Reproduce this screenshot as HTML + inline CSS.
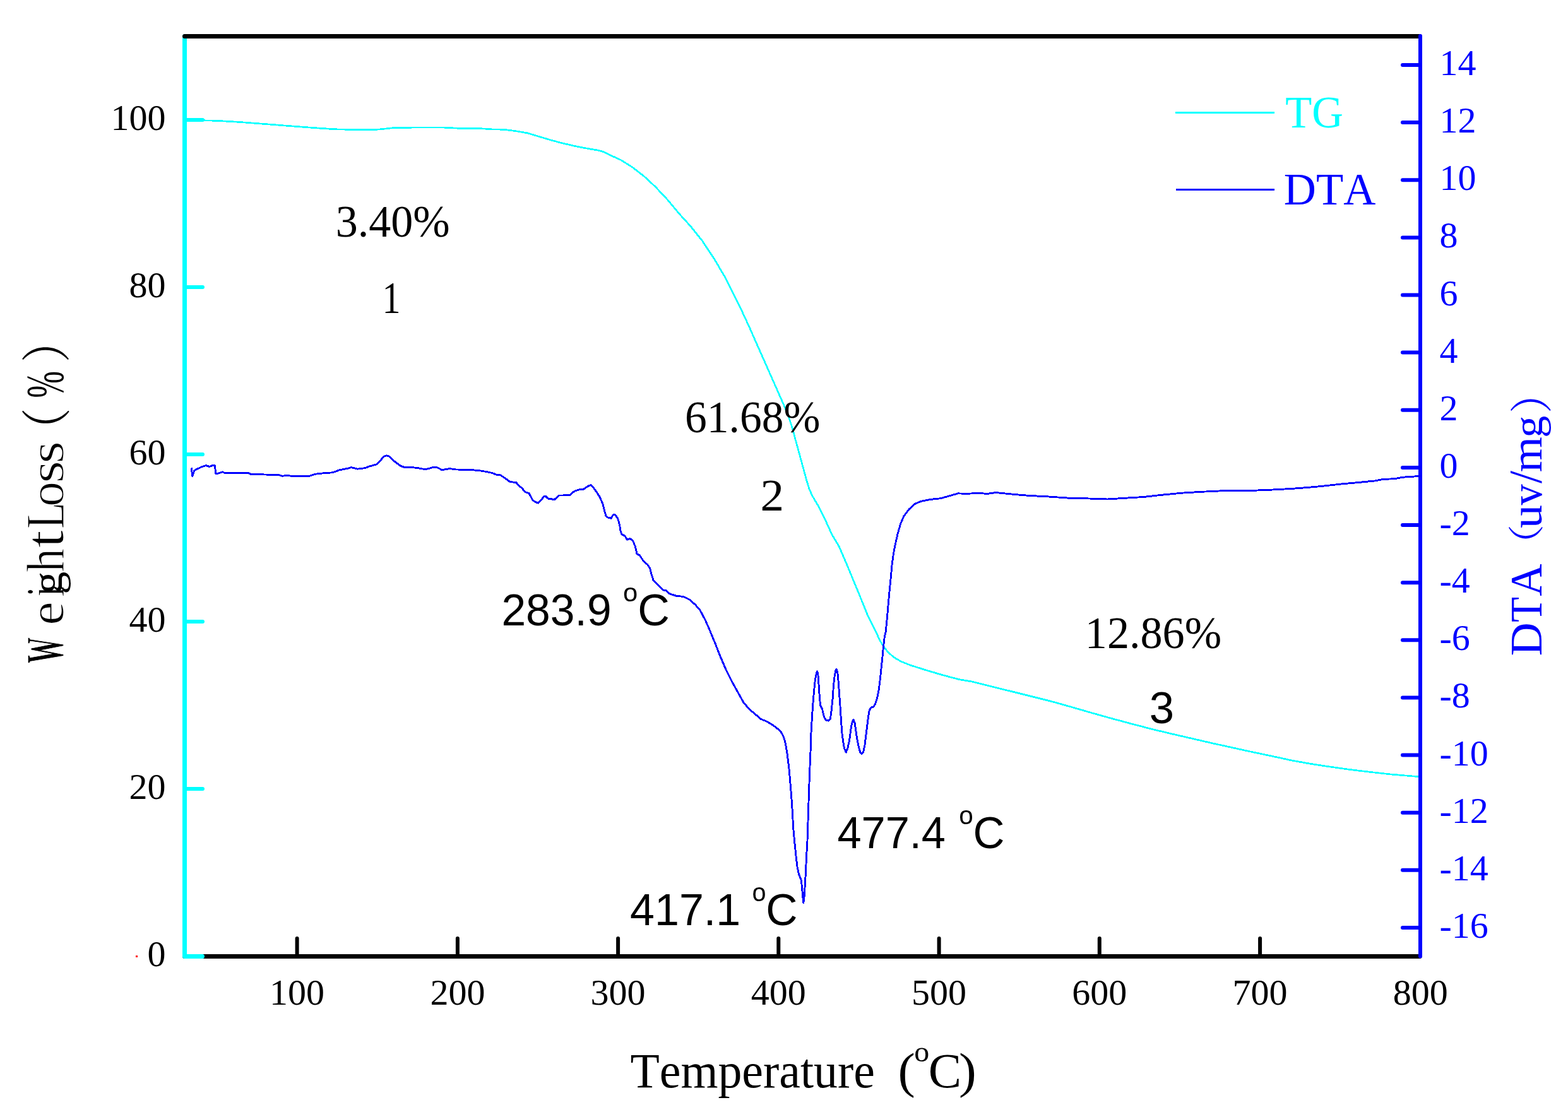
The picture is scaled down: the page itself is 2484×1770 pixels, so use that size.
<!DOCTYPE html>
<html lang="en"><head><meta charset="utf-8"><title>TG-DTA curves</title>
<style>
html,body{margin:0;padding:0;background:#fff;width:2484px;height:1770px}
svg{display:block}
text{font-kerning:none;font-variant-ligatures:none;white-space:pre}
.ser{font-family:"Liberation Serif",serif}
.san{font-family:"Liberation Sans",sans-serif}
.cjk{font-family:"Liberation Serif","Noto Serif CJK SC",serif}
.thin{stroke:#fff;stroke-width:1.3px;vector-effect:non-scaling-stroke}
</style></head><body>
<svg width="2484" height="1770" viewBox="0 0 2484 1770">
<rect width="2484" height="1770" fill="#fff"/>
<polyline fill="none" stroke="#00ffff" stroke-width="2.7" stroke-linejoin="round" shape-rendering="crispEdges" points="296.0,190.8 322.9,190.8 344.8,191.4 377.8,193.3 410.7,195.8 443.6,198.4 476.5,201.0 509.4,203.4 531.3,204.8 564.2,205.6 592.8,205.6 608.1,204.3 625.7,202.3 663.0,202.1 702.5,202.1 728.8,203.4 761.7,203.7 780.0,204.9 798.5,205.3 817.0,207.7 835.4,210.8 853.9,216.4 872.4,221.9 890.9,226.9 909.3,231.1 927.8,234.8 946.3,238.0 955.5,240.4 964.8,245.0 983.2,253.3 1001.7,264.9 1020.2,279.2 1038.7,296.4 1057.1,316.1 1075.6,338.3 1094.1,358.6 1112.6,381.7 1131.0,409.4 1149.5,440.8 1161.0,464.0 1173.9,489.9 1186.8,517.6 1199.8,547.2 1210.9,572.1 1221.9,597.0 1233.0,622.0 1242.3,643.2 1249.7,661.7 1255.2,678.3 1260.7,698.7 1266.3,719.0 1272.1,740.3 1277.6,760.6 1282.2,775.4 1286.8,785.6 1296.1,801.3 1307.2,823.5 1318.2,847.5 1329.3,866.0 1340.4,891.8 1351.5,918.6 1362.6,945.4 1373.7,973.1 1384.8,995.3 1393.9,1014.8 1399.4,1024.0 1406.8,1033.3 1416.0,1041.6 1427.1,1048.0 1441.9,1054.0 1464.1,1061.0 1491.8,1069.3 1519.5,1076.7 1540.0,1080.1 1571.6,1088.0 1603.2,1095.8 1634.8,1103.7 1666.4,1111.6 1698.0,1120.5 1729.6,1129.7 1761.2,1138.5 1792.7,1147.0 1824.3,1155.2 1855.9,1162.8 1887.5,1170.1 1919.1,1177.4 1950.7,1184.3 1982.3,1191.3 2013.9,1197.9 2045.5,1204.8 2077.1,1210.5 2108.7,1215.3 2140.3,1219.7 2171.8,1223.5 2203.4,1227.0 2247.0,1230.7"/>
<polyline fill="none" stroke="#0000ff" stroke-width="2.9" stroke-linejoin="round" shape-rendering="crispEdges" points="303.2,741.5 304.7,754.7 307.6,745.9 311.9,743.3 318.5,740.3 326.2,737.6 331.7,739.4 337.2,737.4 340.5,737.8 341.6,750.3 344.8,750.3 352.5,747.9 355.8,749.2 393.1,749.2 397.5,751.4 415.0,751.9 441.4,752.5 446.9,754.3 452.4,753.6 461.1,754.1 490.7,754.1 498.4,751.4 511.6,749.9 526.9,748.8 537.9,744.8 548.9,742.7 556.6,740.7 566.4,743.1 577.4,741.8 586.2,738.7 597.2,735.6 603.7,728.4 608.1,723.3 612.5,721.8 616.9,723.3 625.7,731.7 634.5,738.3 641.0,740.5 652.0,740.5 663.0,741.8 673.9,743.8 684.9,740.9 692.6,740.9 700.3,744.8 706.8,743.3 713.4,742.7 722.2,744.0 744.1,744.4 759.5,745.7 772.7,747.9 780.0,749.6 787.4,752.7 792.9,752.9 800.3,757.9 807.7,763.4 817.9,764.7 822.5,770.3 826.2,772.7 831.7,779.5 838.2,781.9 843.7,792.1 847.4,795.2 852.4,797.2 857.6,792.1 861.3,786.9 864.1,786.1 868.3,790.2 873.3,790.6 877.9,792.1 885.3,785.0 890.9,785.0 902.9,784.3 909.3,778.8 916.7,776.0 924.1,775.4 931.5,770.4 935.8,768.6 940.7,773.6 945.4,780.0 950.0,787.4 954.6,797.6 957.4,808.7 960.1,817.9 962.9,820.1 968.1,821.2 971.2,816.1 974.0,815.1 978.6,821.2 981.4,830.9 983.2,841.9 985.1,847.1 989.7,848.8 993.4,855.2 998.0,853.4 1002.6,856.7 1006.3,866.0 1009.1,878.0 1013.2,879.8 1019.3,889.1 1025.7,894.6 1029.4,900.1 1032.2,910.3 1035.0,919.5 1042.4,926.9 1050.7,934.9 1055.3,935.8 1060.8,940.8 1071.9,944.5 1083.0,945.4 1092.2,950.0 1101.5,958.3 1108.9,966.7 1117.2,982.4 1123.7,997.1 1132.9,1019.3 1141.0,1040.0 1150.0,1061.0 1159.2,1079.4 1168.5,1096.1 1177.7,1112.7 1187.0,1123.8 1196.2,1131.5 1205.4,1139.5 1214.7,1143.2 1223.9,1148.7 1231.3,1154.3 1236.8,1158.9 1241.5,1168.1 1244.2,1177.4 1247.0,1194.0 1249.8,1216.2 1251.6,1236.5 1253.5,1258.7 1255.3,1286.0 1256.8,1313.0 1259.0,1337.0 1260.9,1355.5 1263.1,1374.0 1265.5,1385.1 1269.2,1394.3 1270.5,1405.4 1271.6,1420.2 1272.9,1430.3 1274.2,1420.2 1275.3,1401.7 1276.6,1379.5 1277.5,1357.4 1278.8,1337.0 1279.7,1313.0 1280.3,1290.9 1281.2,1265.5 1282.1,1238.0 1283.2,1210.0 1284.3,1184.8 1284.9,1162.6 1286.2,1140.4 1287.6,1118.2 1289.5,1096.1 1291.3,1077.6 1293.2,1067.4 1294.7,1063.7 1296.0,1070.2 1297.3,1088.7 1298.4,1105.3 1299.7,1118.2 1302.4,1122.9 1304.3,1131.2 1306.1,1137.6 1308.9,1141.3 1312.6,1142.3 1315.4,1139.5 1317.2,1125.6 1319.1,1107.2 1320.3,1088.7 1321.8,1073.9 1323.7,1062.8 1325.0,1060.6 1326.8,1064.7 1328.3,1081.3 1329.6,1099.8 1331.1,1120.1 1332.4,1140.4 1333.8,1160.7 1335.7,1175.5 1337.5,1185.7 1340.3,1192.1 1343.1,1184.8 1345.8,1171.8 1347.7,1157.0 1349.5,1146.0 1351.9,1140.4 1354.2,1146.0 1356.0,1158.9 1357.9,1171.8 1360.6,1184.8 1362.8,1192.1 1364.9,1194.9 1367.6,1192.1 1369.9,1181.1 1371.7,1166.3 1373.6,1151.5 1375.4,1136.7 1377.3,1125.6 1380.0,1121.0 1383.7,1120.1 1386.5,1115.5 1389.3,1107.2 1392.0,1094.2 1393.9,1079.4 1395.7,1062.8 1397.6,1044.3 1399.4,1025.9 1401.2,1010.0 1403.2,1000.8 1405.4,978.7 1407.3,956.5 1409.1,936.2 1411.2,915.8 1413.0,895.5 1415.2,878.9 1418.0,864.1 1421.7,847.5 1426.3,830.9 1431.9,817.9 1440.2,806.8 1449.4,798.5 1458.7,794.5 1473.4,791.5 1490.1,789.7 1504.9,785.6 1517.8,781.9 1530.7,782.3 1551.0,781.5 1564.0,782.4 1577.9,780.5 1603.2,783.1 1628.5,785.3 1660.0,786.9 1691.6,789.1 1716.9,789.7 1754.8,791.0 1780.1,789.4 1811.7,787.5 1840.1,784.3 1871.7,781.2 1903.3,779.3 1944.4,777.4 1982.3,777.4 2013.9,776.1 2045.5,774.5 2077.1,772.0 2102.3,769.5 2124.5,767.0 2156.1,764.1 2178.2,761.9 2190.8,759.4 2209.8,758.7 2222.4,756.2 2247.0,754.6"/>
<g stroke="#000" stroke-width="7" stroke-linecap="round" fill="none">
<line x1="292.5" y1="1515.5" x2="2249" y2="1515.5"/>
</g><g stroke="#000" stroke-width="6" stroke-linecap="round">
<line x1="470.6" y1="1487" x2="470.6" y2="1513"/>
<line x1="724.9" y1="1487" x2="724.9" y2="1513"/>
<line x1="979.1" y1="1487" x2="979.1" y2="1513"/>
<line x1="1233.3" y1="1487" x2="1233.3" y2="1513"/>
<line x1="1487.6" y1="1487" x2="1487.6" y2="1513"/>
<line x1="1741.8" y1="1487" x2="1741.8" y2="1513"/>
<line x1="1996.1" y1="1487" x2="1996.1" y2="1513"/>
</g>
<g stroke="#00ffff" stroke-width="7" stroke-linecap="round">
<line x1="292.5" y1="57.5" x2="292.5" y2="1515.5"/>
</g><g stroke="#00ffff" stroke-width="6" stroke-linecap="round">
<line x1="294" y1="190.0" x2="321" y2="190.0"/>
<line x1="294" y1="455.0" x2="321" y2="455.0"/>
<line x1="294" y1="720.0" x2="321" y2="720.0"/>
<line x1="294" y1="985.0" x2="321" y2="985.0"/>
<line x1="294" y1="1250.0" x2="321" y2="1250.0"/>
<line x1="294" y1="1515.5" x2="320.5" y2="1515.5" stroke-width="7"/>
</g>
<line x1="292.5" y1="57.5" x2="2249" y2="57.5" stroke="#000" stroke-width="7" stroke-linecap="round"/>
<g stroke="#0000ff" stroke-width="6" stroke-linecap="round">
<line x1="2250" y1="57" x2="2250" y2="1515.5"/>
<line x1="2222" y1="103.0" x2="2249" y2="103.0"/>
<line x1="2222" y1="194.1" x2="2249" y2="194.1"/>
<line x1="2222" y1="285.3" x2="2249" y2="285.3"/>
<line x1="2222" y1="376.4" x2="2249" y2="376.4"/>
<line x1="2222" y1="467.5" x2="2249" y2="467.5"/>
<line x1="2222" y1="558.6" x2="2249" y2="558.6"/>
<line x1="2222" y1="649.8" x2="2249" y2="649.8"/>
<line x1="2222" y1="740.9" x2="2249" y2="740.9"/>
<line x1="2222" y1="832.0" x2="2249" y2="832.0"/>
<line x1="2222" y1="923.2" x2="2249" y2="923.2"/>
<line x1="2222" y1="1014.3" x2="2249" y2="1014.3"/>
<line x1="2222" y1="1105.4" x2="2249" y2="1105.4"/>
<line x1="2222" y1="1196.6" x2="2249" y2="1196.6"/>
<line x1="2222" y1="1287.7" x2="2249" y2="1287.7"/>
<line x1="2222" y1="1378.8" x2="2249" y2="1378.8"/>
<line x1="2222" y1="1469.9" x2="2249" y2="1469.9"/>
</g>
<rect x="215" y="1514" width="3" height="3" fill="#ff0000"/>
<g class="ser" font-size="58" fill="#000">
<g text-anchor="end">
<text x="262.5" y="205.6">100</text>
<text x="262.5" y="470.6">80</text>
<text x="262.5" y="735.6">60</text>
<text x="262.5" y="1000.6">40</text>
<text x="262.5" y="1265.6">20</text>
<text x="262.5" y="1530.6">0</text>
</g><g text-anchor="middle">
<text x="470.6" y="1592">100</text>
<text x="724.9" y="1592">200</text>
<text x="979.1" y="1592">300</text>
<text x="1233.3" y="1592">400</text>
<text x="1487.6" y="1592">500</text>
<text x="1741.8" y="1592">600</text>
<text x="1996.1" y="1592">700</text>
<text x="2250.3" y="1592">800</text>
</g></g>
<g class="ser" font-size="58" fill="#0000ff">
<text x="2280.5" y="119.0">14</text>
<text x="2280.5" y="210.1">12</text>
<text x="2280.5" y="301.3">10</text>
<text x="2280.5" y="392.4">8</text>
<text x="2280.5" y="483.5">6</text>
<text x="2280.5" y="574.6">4</text>
<text x="2280.5" y="665.8">2</text>
<text x="2280.5" y="756.9">0</text>
<text x="2280.5" y="848.0">-2</text>
<text x="2280.5" y="939.2">-4</text>
<text x="2280.5" y="1030.3">-6</text>
<text x="2280.5" y="1121.4">-8</text>
<text x="2280.5" y="1212.6">-10</text>
<text x="2280.5" y="1303.7">-12</text>
<text x="2280.5" y="1394.8">-14</text>
<text x="2280.5" y="1485.9">-16</text>
</g>
<line x1="1862" y1="178.5" x2="2019" y2="178.5" stroke="#00ffff" stroke-width="3"/>
<line x1="1863" y1="300.5" x2="2019" y2="300.5" stroke="#0000ff" stroke-width="3"/>
<text fill="#00ffff"><tspan class="ser" x="2036.26" y="201.80" font-size="72" textLength="91.80" lengthAdjust="spacingAndGlyphs">TG</tspan></text>
<text fill="#0000ff"><tspan class="ser" x="2033.86" y="323.80" font-size="72" textLength="145.46" lengthAdjust="spacingAndGlyphs">DTA</tspan></text>
<text fill="#000"><tspan class="ser" x="531.65" y="375.20" font-size="72" textLength="181.05" lengthAdjust="spacingAndGlyphs">3.40%</tspan></text>
<text fill="#000"><tspan class="ser" x="605.38" y="495.80" font-size="72" textLength="29.12" lengthAdjust="spacingAndGlyphs">1</tspan></text>
<text fill="#000"><tspan class="ser" x="1085.01" y="685.20" font-size="72" textLength="214.47" lengthAdjust="spacingAndGlyphs">61.68%</tspan></text>
<text fill="#000"><tspan class="ser" x="1204.50" y="808.70" font-size="72" textLength="37.54" lengthAdjust="spacingAndGlyphs">2</tspan></text>
<text fill="#000"><tspan class="ser" x="1718.83" y="1027.30" font-size="72" textLength="216.26" lengthAdjust="spacingAndGlyphs">12.86%</tspan></text>
<text fill="#000"><tspan class="san" x="1820.71" y="1145.60" font-size="70" textLength="39.30" lengthAdjust="spacingAndGlyphs">3</tspan></text>
<text fill="#000"><tspan class="san" x="794.40" y="990.70" font-size="70" textLength="193.55" lengthAdjust="spacingAndGlyphs">283.9 </tspan><tspan class="san" x="987.05" y="952.70" font-size="40" textLength="23.20" lengthAdjust="spacingAndGlyphs">o</tspan><tspan class="san" x="1010.14" y="990.70" font-size="70" textLength="50.63" lengthAdjust="spacingAndGlyphs">C</tspan></text>
<text fill="#000"><tspan class="san" x="1326.43" y="1343.80" font-size="70" textLength="190.64" lengthAdjust="spacingAndGlyphs">477.4 </tspan><tspan class="san" x="1519.30" y="1305.80" font-size="40" textLength="22.50" lengthAdjust="spacingAndGlyphs">o</tspan><tspan class="san" x="1541.49" y="1343.80" font-size="70" textLength="49.95" lengthAdjust="spacingAndGlyphs">C</tspan></text>
<text fill="#000"><tspan class="san" x="998.09" y="1465.80" font-size="70" textLength="194.58" lengthAdjust="spacingAndGlyphs">417.1 </tspan><tspan class="san" x="1191.54" y="1427.80" font-size="40" textLength="22.03" lengthAdjust="spacingAndGlyphs">o</tspan><tspan class="san" x="1213.36" y="1465.80" font-size="70" textLength="50.29" lengthAdjust="spacingAndGlyphs">C</tspan></text>
<text fill="#000"><tspan class="ser" x="998.53" y="1722.70" font-size="77.5" textLength="425.21" lengthAdjust="spacingAndGlyphs">Temperature  </tspan><tspan class="ser" x="1422.41" y="1722.70" font-size="77.5" textLength="27.23" lengthAdjust="spacingAndGlyphs">(</tspan><tspan class="ser" x="1448.18" y="1682.40" font-size="45.5" textLength="23.95" lengthAdjust="spacingAndGlyphs">o</tspan><tspan class="ser" x="1470.78" y="1722.70" font-size="77.5" textLength="52.35" lengthAdjust="spacingAndGlyphs">C</tspan><tspan class="ser" x="1519.01" y="1722.70" font-size="77.5" textLength="27.75" lengthAdjust="spacingAndGlyphs">)</tspan></text>
<text fill="#0000ff" transform="translate(2442,1038) rotate(-90)"><tspan x="-1.21" y="-0.14" font-size="71.26" textLength="52.84" lengthAdjust="spacingAndGlyphs" class="ser">D</tspan><tspan x="52.12" y="0.00" font-size="71.47" textLength="39.97" lengthAdjust="spacingAndGlyphs" class="ser">T</tspan><tspan x="93.31" y="0.00" font-size="72.71" textLength="51.21" lengthAdjust="spacingAndGlyphs" class="ser">A</tspan> <tspan x="142.72" y="-3.46" font-size="57.48" textLength="64.34" lengthAdjust="spacingAndGlyphs" class="cjk">（</tspan><tspan x="201.03" y="0.22" font-size="69.33" textLength="36.94" lengthAdjust="spacingAndGlyphs" class="ser">u</tspan><tspan x="237.40" y="0.22" font-size="69.33" textLength="33.30" lengthAdjust="spacingAndGlyphs" class="ser">v</tspan><tspan x="272.10" y="0.17" font-size="74.45" textLength="19.90" lengthAdjust="spacingAndGlyphs" class="ser">/</tspan><tspan x="289.69" y="-0.10" font-size="70.04" textLength="56.04" lengthAdjust="spacingAndGlyphs" class="ser">m</tspan><tspan x="344.19" y="0.83" font-size="66.12" textLength="35.05" lengthAdjust="spacingAndGlyphs" class="ser">g</tspan><tspan x="383.05" y="8.81" font-size="68.06" textLength="64.34" lengthAdjust="spacingAndGlyphs" class="cjk">）</tspan></text>
<text fill="#000" transform="translate(100.9,1052) rotate(-90)"><tspan x="0.72" y="-1.27" font-size="83.74" textLength="41.12" lengthAdjust="spacingAndGlyphs" font-weight="bold" class="ser thin">W</tspan><tspan x="60.95" y="-0.77" font-size="78.80" textLength="38.01" lengthAdjust="spacingAndGlyphs" class="ser thin">e</tspan><tspan x="106.22" y="0.00" font-size="86.24" textLength="16.94" lengthAdjust="spacingAndGlyphs" class="ser thin">i</tspan><tspan x="110.51" y="-2.84" font-size="68.31" textLength="35.96" lengthAdjust="spacingAndGlyphs" class="ser">g</tspan><tspan x="145.16" y="0.00" font-size="85.18" textLength="37.73" lengthAdjust="spacingAndGlyphs" class="ser thin">h</tspan><tspan x="183.49" y="-0.85" font-size="86.77" textLength="28.61" lengthAdjust="spacingAndGlyphs" class="ser thin">t</tspan> <tspan x="214.02" y="0.00" font-size="85.68" textLength="41.90" lengthAdjust="spacingAndGlyphs" class="ser thin">L</tspan><tspan x="248.94" y="-0.77" font-size="78.80" textLength="40.11" lengthAdjust="spacingAndGlyphs" class="ser thin">o</tspan><tspan x="286.21" y="-0.77" font-size="78.80" textLength="35.92" lengthAdjust="spacingAndGlyphs" class="ser thin">s</tspan><tspan x="317.21" y="-0.77" font-size="78.80" textLength="35.92" lengthAdjust="spacingAndGlyphs" class="ser thin">s</tspan> <tspan x="335.78" y="0.88" font-size="79.81" textLength="69.93" lengthAdjust="spacingAndGlyphs" class="cjk">（</tspan><tspan x="421.46" y="-1.11" font-size="84.19" textLength="42.38" lengthAdjust="spacingAndGlyphs" class="ser">%</tspan><tspan x="477.76" y="0.95" font-size="78.95" textLength="68.88" lengthAdjust="spacingAndGlyphs" class="cjk">）</tspan></text>
</svg></body></html>
